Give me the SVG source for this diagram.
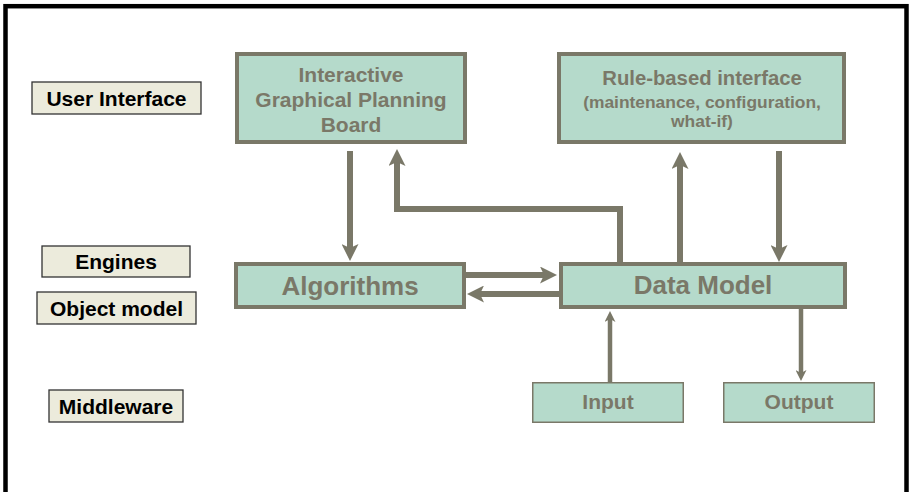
<svg xmlns="http://www.w3.org/2000/svg" width="909" height="492" viewBox="0 0 909 492">
<style>
.frame{fill:none;stroke:#000;stroke-width:4.5}
.lbl rect{fill:#ecebdc;stroke:#333;stroke-width:1.3}
.lbl text{font-family:"Liberation Sans",Arial,sans-serif;font-weight:bold;font-size:21px;fill:#000;text-anchor:middle}
.node rect{fill:#b5dacb;stroke:#7a7868;stroke-width:4}
.node.thin rect{stroke-width:1.5}
.node text{font-family:"Liberation Sans",Arial,sans-serif;font-weight:bold;fill:#7a7868;text-anchor:middle}
.c{fill:none;stroke:#7a7868;stroke-width:6;stroke-linejoin:miter}
.c.t{stroke-width:4.5}
</style>
<defs>
<marker id="ah" markerUnits="userSpaceOnUse" markerWidth="17" markerHeight="17" viewBox="0 0 17 17" refX="4" refY="8.5" orient="auto">
<path d="M0,0 L17,8.5 L0,17 L4,8.5 Z" fill="#7a7868"/>
</marker>
<marker id="as" markerUnits="userSpaceOnUse" markerWidth="11" markerHeight="11" viewBox="0 0 11 11" refX="3" refY="5.5" orient="auto">
<path d="M0,0 L11,5.5 L0,11 L3,5.5 Z" fill="#7a7868"/>
</marker>
</defs>
<rect class="frame" x="5.5" y="6.2" width="901" height="500"/>

<g id="label-user-interface" class="lbl"><rect x="32" y="82" width="169" height="32"/><text x="116.5" y="106">User Interface</text></g>
<g id="label-engines" class="lbl"><rect x="42" y="246" width="148" height="31"/><text x="116" y="269">Engines</text></g>
<g id="label-object-model" class="lbl"><rect x="37" y="292" width="159" height="32"/><text x="116.5" y="316">Object model</text></g>
<g id="label-middleware" class="lbl"><rect x="49" y="390" width="134" height="32"/><text x="116" y="414">Middleware</text></g>

<g id="connectors">
<path class="c" d="M350,151 V248" marker-end="url(#ah)"/>
<path class="c" d="M620,262 V209 H397 V162" marker-end="url(#ah)"/>
<path class="c" d="M680,262 V165" marker-end="url(#ah)"/>
<path class="c" d="M779,151 V249" marker-end="url(#ah)"/>
<path class="c" d="M466,275 H544" marker-end="url(#ah)"/>
<path class="c" d="M559,294 H480" marker-end="url(#ah)"/>
<path class="c t" d="M610,382 V319" marker-end="url(#as)"/>
<path class="c t" d="M801,309 V373" marker-end="url(#as)"/>
</g>

<g id="node-planning-board" class="node"><rect x="237" y="54" width="228" height="88"/>
<text font-size="21" x="351" y="82">Interactive</text>
<text font-size="21" x="351" y="107">Graphical Planning</text>
<text font-size="21" x="351" y="132">Board</text></g>
<g id="node-rule-based" class="node"><rect x="559" y="54" width="285" height="88"/>
<text font-size="20.3" x="702" y="85">Rule-based interface</text>
<text font-size="17.4" x="702" y="108">(maintenance, configuration,</text>
<text font-size="17.4" x="702" y="127">what-if)</text></g>
<g id="node-algorithms" class="node"><rect x="236" y="264" width="228" height="43"/>
<text font-size="26" x="350" y="295">Algorithms</text></g>
<g id="node-data-model" class="node"><rect x="561" y="264" width="284" height="43"/>
<text font-size="26" x="703" y="294">Data Model</text></g>
<g id="node-input" class="node thin"><rect x="532.75" y="382.75" width="150.5" height="39.5"/>
<text font-size="21" x="608" y="409">Input</text></g>
<g id="node-output" class="node thin"><rect x="723.75" y="382.75" width="150.5" height="39.5"/>
<text font-size="21" x="799" y="409">Output</text></g>
</svg>
